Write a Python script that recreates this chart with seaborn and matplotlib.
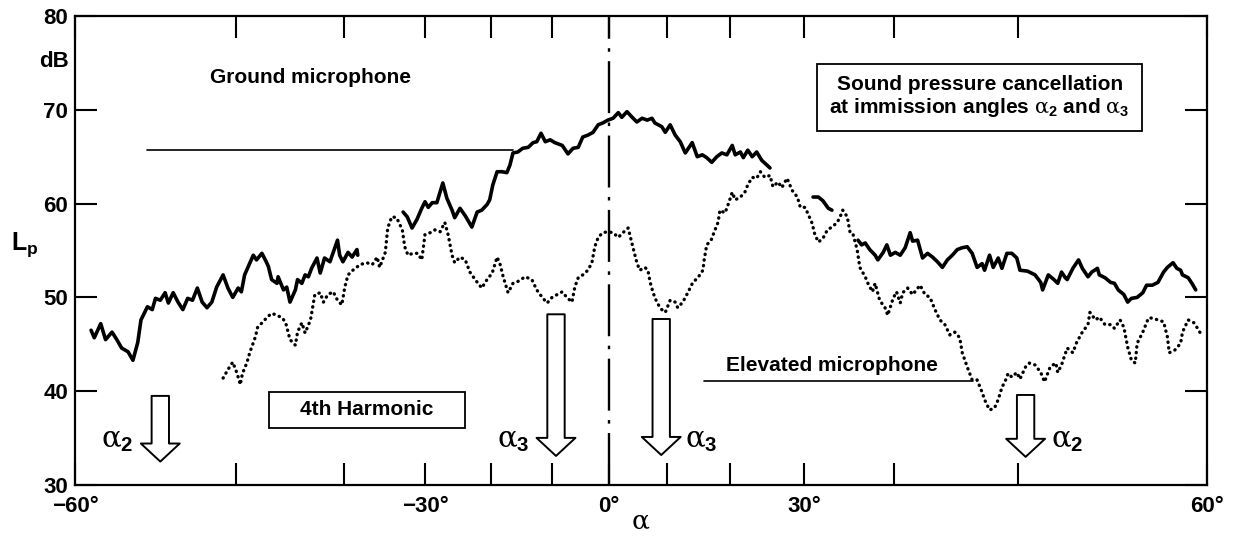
import numpy as np
import pandas as pd
import matplotlib
matplotlib.use('Agg')
import matplotlib.pyplot as plt
import seaborn as sns

# --- data (angle in degrees, level in dB) ---
# ground microphone, drawn in four pieces (the trace has gaps)
ground_seg1_angle = [-59.0, -58.8, -58.4, -58.1, -57.7, -57.4, -57.1, -56.7, -56.4, -56.1,
                     -55.9, -55.5, -55.2, -55.0, -54.7, -54.4, -54.2, -53.9, -53.6, -53.3,
                     -53.0, -52.7, -52.4, -52.1, -51.8, -51.5, -51.2, -50.8, -50.5, -50.2,
                     -49.8, -49.5, -49.2, -48.4, -48.1, -47.6, -47.2, -47.0, -46.7, -46.2,
                     -46.1, -45.6, -45.3, -45.0, -44.5, -44.3, -43.9, -43.6, -43.3, -43.0,
                     -42.5, -42.2, -41.8, -41.3, -40.6, -40.4, -40.1, -39.5, -39.0, -38.4,
                     -38.3]
ground_seg1_db = [46.5, 45.7, 47.2, 45.5, 46.3, 45.5, 44.6, 44.2, 43.3, 45.2,
                  47.6, 49.0, 48.7, 49.9, 49.7, 50.5, 49.4, 50.5, 49.5, 48.7,
                  49.9, 49.7, 51.0, 49.5, 48.9, 49.5, 51.1, 52.4, 51.0, 50.0,
                  51.0, 50.6, 52.4, 54.5, 54.0, 54.7, 53.8, 53.3, 51.9, 51.5,
                  52.2, 50.8, 51.1, 49.5, 50.8, 51.9, 51.5, 52.4, 52.2, 53.1,
                  54.2, 52.6, 54.2, 53.8, 56.1, 54.5, 53.8, 54.8, 54.3, 55.1,
                  54.5]

ground_seg2_angle = [-32.7, -32.2, -31.6, -31.0, -30.4, -30.0, -29.5, -28.9, -28.2, -27.3,
                     -26.7, -25.9, -25.5, -24.7, -23.9, -22.9, -22.1, -21.4, -20.6, -20.2,
                     -19.7, -19.0, -18.2, -17.4, -16.9, -16.4, -15.6, -14.8, -13.9, -13.1,
                     -12.5, -11.8, -11.1, -10.3, -9.5, -8.2, -7.2, -6.3, -5.4, -4.6,
                     -3.7, -2.8, -1.9, -1.1, -0.2, 0.7, 1.6, 2.2, 3.1, 4.0,
                     4.8, 5.7, 6.6, 7.4, 7.9, 9.1, 9.7, 10.5, 11.3, 12.1,
                     12.9, 14.0, 14.8, 15.6, 16.3, 17.1, 17.9, 18.7, 19.5, 20.3,
                     20.7, 21.4, 21.8, 22.4, 23.0, 23.6, 24.3, 25.0, 25.4]
ground_seg2_db = [59.1, 58.6, 57.4, 58.3, 59.5, 60.2, 59.6, 60.1, 60.1, 62.2,
                  60.6, 59.3, 58.5, 59.5, 58.7, 57.5, 59.1, 59.3, 59.9, 60.4,
                  62.0, 63.4, 63.4, 63.3, 64.1, 65.4, 65.5, 65.9, 66.0, 66.5,
                  66.6, 67.5, 66.6, 66.8, 66.5, 66.2, 65.3, 65.9, 66.0, 67.1,
                  67.3, 67.6, 68.4, 68.6, 68.9, 69.1, 69.7, 69.2, 69.8, 69.2,
                  68.7, 69.1, 68.9, 69.1, 68.6, 68.2, 67.6, 68.4, 67.3, 66.6,
                  65.4, 66.5, 65.0, 65.2, 64.9, 64.4, 65.0, 65.4, 65.2, 66.2,
                  65.2, 65.5, 64.9, 65.7, 65.0, 65.5, 64.6, 64.1, 63.8]

ground_seg3_angle = [31.0, 31.6, 32.1, 32.7, 33.1]
ground_seg3_db = [60.7, 60.7, 60.3, 59.5, 59.3]

ground_seg4_angle = [36.0, 36.4, 36.8, 37.3, 37.9, 38.2, 38.8, 39.2, 39.6, 40.1,
                     40.5, 40.9, 41.3, 41.5, 41.9, 42.3, 42.7, 43.1, 43.5, 43.9,
                     44.3, 44.7, 45.1, 45.5, 45.9, 46.3, 46.7, 47.1, 47.3, 47.7,
                     48.0, 48.4, 48.7, 49.1, 49.5, 49.9, 50.1, 50.5, 50.9, 51.2,
                     51.3, 51.6, 51.9, 52.1, 52.3, 52.5, 52.6, 52.9, 53.2, 53.4,
                     53.7, 53.9, 54.2, 54.3, 54.6, 54.9, 55.1, 55.3, 55.6, 55.8,
                     56.0, 56.3, 56.6, 56.8, 57.1, 57.4, 57.7, 57.9, 58.2, 58.4,
                     58.6, 58.7, 59.0, 59.2, 59.4]
ground_seg4_db = [56.1, 55.6, 55.8, 55.1, 54.5, 54.0, 54.8, 55.6, 54.5, 54.8,
                  54.5, 55.3, 56.9, 56.0, 56.1, 54.2, 54.7, 54.3, 53.8, 53.2,
                  54.0, 54.5, 55.1, 55.3, 55.4, 54.7, 53.2, 53.6, 52.9, 54.5,
                  53.2, 54.2, 53.1, 54.7, 54.7, 54.2, 52.9, 52.8, 52.4, 51.6,
                  50.8, 52.4, 51.9, 51.5, 52.7, 52.1, 51.9, 53.1, 54.0, 53.1,
                  52.2, 52.7, 53.1, 52.4, 52.1, 51.6, 51.5, 50.8, 50.3, 49.5,
                  49.9, 50.0, 50.5, 51.3, 51.3, 51.6, 52.7, 53.2, 53.7, 53.1,
                  52.9, 52.4, 52.1, 51.5, 50.8]

# elevated microphone (dotted trace)
elevated_angle = [-50.8, -50.5, -50.2, -49.9, -49.6, -49.4, -49.0, -48.7, -48.2, -48.0,
                  -47.5, -47.1, -46.7, -46.2, -45.7, -45.4, -45.0, -44.5, -44.3, -43.9,
                  -43.6, -43.1, -42.7, -42.2, -41.9, -41.5, -41.0, -40.6, -40.2, -39.9,
                  -39.5, -38.9, -38.0, -37.2, -36.5, -35.9, -35.6, -34.9, -34.6, -34.1,
                  -33.5, -32.8, -32.5, -32.1, -31.5, -30.9, -30.4, -30.0, -29.2, -28.5,
                  -27.7, -27.0, -26.5, -25.9, -25.5, -24.7, -23.9, -23.2, -22.4, -21.4,
                  -20.6, -19.8, -19.0, -18.5, -18.0, -17.2, -16.4, -15.6, -14.4, -13.3,
                  -12.5, -11.6, -10.8, -10.0, -9.1, -8.2, -7.4, -6.5, -6.0, -5.4,
                  -4.6, -3.7, -3.0, -2.5, -1.9, -1.1, -0.2, 0.7, 1.6, 2.4,
                  3.3, 4.1, 4.8, 5.3, 6.2, 6.7, 7.1, 7.6, 8.3, 9.1,
                  9.7, 10.5, 11.3, 11.7, 12.5, 13.3, 14.1, 14.9, 15.7, 15.9,
                  16.3, 17.0, 17.5, 18.1, 18.4, 19.2, 19.7, 20.3, 20.7, 21.4,
                  22.0, 22.4, 23.0, 23.6, 24.1, 24.7, 25.4, 25.8, 26.5, 27.0,
                  27.7, 28.4, 29.1, 29.5, 30.1, 30.4, 30.9, 31.2, 31.6, 32.1,
                  32.6, 33.1, 33.7, 34.2, 34.3, 34.8, 35.1, 35.4, 35.9, 36.2,
                  36.8, 37.1, 37.6, 37.9, 38.4, 39.0, 39.3, 39.9, 40.2, 40.5,
                  40.7, 41.1, 41.5, 42.1, 42.5, 42.9, 43.3, 43.7, 44.1, 44.5,
                  44.9, 45.3, 45.5, 45.9, 46.3, 46.7, 47.1, 47.3, 47.7, 48.1,
                  48.4, 48.7, 49.0, 49.2, 49.5, 49.9, 50.1, 50.4, 50.6, 50.9,
                  51.2, 51.4, 51.7, 52.0, 52.1, 52.3, 52.6, 52.9, 53.1, 53.4,
                  53.7, 53.8, 54.1, 54.3, 54.6, 54.9, 55.1, 55.4, 55.6, 55.8,
                  56.0, 56.2, 56.3, 56.6, 56.9, 57.1, 57.4, 57.7, 57.9, 58.0,
                  58.3, 58.6, 58.7, 59.0, 59.3, 59.5, 59.7]
elevated_db = [41.4, 42.3, 43.1, 41.9, 40.7, 41.9, 43.0, 44.2, 45.8, 46.8,
               47.4, 47.9, 48.3, 48.1, 47.8, 47.3, 45.5, 44.9, 46.3, 47.3,
               46.2, 47.6, 50.3, 50.5, 49.5, 50.3, 50.6, 49.7, 49.2, 51.1,
               52.4, 52.9, 53.5, 53.7, 53.5, 54.3, 53.2, 54.8, 57.4, 58.6,
               58.5, 57.2, 55.4, 54.5, 54.7, 54.7, 54.0, 56.7, 56.9, 57.2,
               57.0, 58.0, 56.7, 54.5, 53.7, 54.3, 54.0, 52.7, 51.9, 51.0,
               51.9, 52.6, 54.3, 53.5, 52.2, 50.5, 51.5, 51.7, 52.2, 51.9,
               50.8, 50.0, 49.4, 50.0, 50.3, 50.6, 50.0, 49.5, 51.1, 52.1,
               52.4, 52.9, 53.7, 55.4, 56.4, 56.9, 57.0, 56.9, 56.4, 56.9,
               57.4, 55.4, 53.7, 52.9, 53.2, 52.9, 51.6, 50.5, 49.4, 48.7,
               48.4, 49.7, 49.5, 48.9, 49.5, 50.5, 51.6, 52.1, 52.9, 54.0,
               55.6, 56.1, 57.0, 58.0, 59.3, 59.0, 59.9, 61.2, 60.4, 60.7,
               61.2, 62.0, 62.8, 62.7, 63.4, 62.8, 63.0, 61.8, 62.3, 61.7,
               62.7, 61.4, 60.7, 59.6, 59.6, 59.0, 57.9, 56.7, 55.9, 56.3,
               57.2, 57.5, 58.0, 59.0, 59.3, 58.6, 57.0, 56.9, 55.1, 53.2,
               52.2, 51.5, 50.6, 51.5, 49.7, 48.9, 48.1, 49.9, 50.6, 49.4,
               50.5, 51.0, 50.3, 51.3, 50.3, 50.0, 48.7, 47.6, 47.1, 46.0,
               46.3, 45.7, 44.1, 42.6, 41.2, 41.2, 39.9, 39.1, 38.0, 38.2,
               39.1, 40.4, 41.2, 41.9, 41.5, 42.0, 41.3, 42.6, 43.0, 42.8,
               42.0, 41.0, 42.6, 43.0, 42.0, 42.8, 44.6, 44.1, 45.2, 46.3,
               47.1, 48.4, 47.6, 47.9, 47.1, 47.1, 46.7, 47.6, 46.8, 44.7,
               43.3, 43.0, 45.1, 46.3, 47.8, 47.8, 47.6, 47.4, 45.8, 44.1,
               44.4, 45.1, 46.3, 47.6, 47.3, 46.7, 46.0]

# cancellation arrows: angle, top and tip level, label
arrow_angles = [-54.7, -9.3, 9.0, 50.4]
arrow_top = [39.5, 48.2, 47.7, 39.6]
arrow_tip = [32.5, 33.1, 33.2, 33.0]
arrow_labels = [r'$\alpha_2$', r'$\alpha_3$', r'$\alpha_3$', r'$\alpha_2$']
arrow_label_angles = [-57.4, -16.4, 15.4, 52.6]

tick_angles = [-60, -50, -40, -30, -20, -10, 0, 10, 20, 30, 40, 50, 60]
tick_labels = ['\u221260°', '', '', '\u221230°', '', '', '0°', '', '', '30°', '', '', '60°']

# the angle axis of the original is not linear (track distance), relative spacing of the 10° ticks
track_offsets = [-534, -373, -265, -184, -118, -57, 0, 58, 121, 195, 285, 409, 598]


def to_track(a):
    return np.interp(a, tick_angles, track_offsets)


def from_track(d):
    return np.interp(d, track_offsets, tick_angles)


sns.set_theme(style='ticks')
plt.rcParams['font.family'] = ['Liberation Sans', 'DejaVu Sans']
plt.rcParams['font.weight'] = 'bold'
plt.rcParams['text.color'] = 'black'
plt.rcParams['axes.labelcolor'] = 'black'
plt.rcParams['xtick.color'] = 'black'
plt.rcParams['ytick.color'] = 'black'
# thin upright serif alpha, sans digits, like the original
plt.rcParams['mathtext.fontset'] = 'custom'
plt.rcParams['mathtext.rm'] = 'Liberation Sans:bold'
plt.rcParams['mathtext.it'] = 'DejaVu Serif:normal'
plt.rcParams['mathtext.bf'] = 'Liberation Sans:bold'

ground_df = pd.concat([
    pd.DataFrame({'angle': ground_seg1_angle, 'db': ground_seg1_db, 'segment': 1}),
    pd.DataFrame({'angle': ground_seg2_angle, 'db': ground_seg2_db, 'segment': 2}),
    pd.DataFrame({'angle': ground_seg3_angle, 'db': ground_seg3_db, 'segment': 3}),
    pd.DataFrame({'angle': ground_seg4_angle, 'db': ground_seg4_db, 'segment': 4}),
], ignore_index=True)
elevated_df = pd.DataFrame({'angle': elevated_angle, 'db': elevated_db})

fig = plt.figure(figsize=(12.37, 5.37), dpi=100)
ax = fig.add_axes([0.0606, 0.0968, 0.9152, 0.8734])
ax.set_xscale('function', functions=(to_track, from_track))

sns.lineplot(data=ground_df, x='angle', y='db', units='segment', estimator=None,
             sort=False, color='black', lw=2.6, ax=ax)
sns.lineplot(data=elevated_df, x='angle', y='db', estimator=None, sort=False,
             color='black', lw=2.4, linestyle=(0, (0.1, 1.6)), dash_capstyle='round', ax=ax)

ax.axvline(0, color='black', lw=1.7, linestyle=(0, (22, 4, 1.5, 4)))

ax.set_xlim(-60, 60)
ax.set_ylim(30, 80)
ax.set_xticks(tick_angles)
ax.set_xticklabels(tick_labels)
ax.set_yticks([30, 40, 50, 60, 70, 80])
ax.tick_params(axis='both', direction='in', length=16, width=1.5, top=True, right=True,
               labelsize=16, colors='black')
ax.tick_params(axis='x', pad=8)
ax.tick_params(axis='y', pad=5)
for s in ax.spines.values():
    s.set_linewidth(1.6)
    s.set_color('black')
ax.set_xlabel(r'$\alpha$', fontsize=19, labelpad=-5)
ax.set_ylabel('')

ax.text(-0.0186, 75.1, 'dB', transform=ax.get_yaxis_transform(), ha='center', va='center', fontsize=16)
ax.text(-0.044, 55.6, r'$\mathbf{L_p}$', transform=ax.get_yaxis_transform(), ha='center', va='center', fontsize=18)

# curve labels with leader lines
ax.text(-43.1, 73.4, 'Ground microphone', ha='center', va='center', fontsize=15)
ax.plot([-55.5, -16.4], [65.7, 65.7], color='black', lw=1.2)
ax.text(33.1, 42.7, 'Elevated microphone', ha='center', va='center', fontsize=15)
ax.plot([15.9, 46.4], [41.1, 41.1], color='black', lw=1.2)

ax.text(46.9, 71.4, 'Sound pressure cancellation\nat immission angles $\\alpha_2$ and $\\alpha_3$',
        ha='center', va='center', fontsize=15, linespacing=1.1,
        bbox=dict(boxstyle='square,pad=0.6', fc='white', ec='black', lw=1.3))
ax.text(-37.2, 38.0, '    4th Harmonic    ', ha='center', va='center', fontsize=15,
        bbox=dict(boxstyle='square,pad=0.4', fc='white', ec='black', lw=1.3))

for a, top, tip, lab, la in zip(arrow_angles, arrow_top, arrow_tip, arrow_labels, arrow_label_angles):
    ax.annotate('', xy=(a, tip), xytext=(a, top),
                arrowprops=dict(arrowstyle='simple,head_length=1.3,head_width=2.8,tail_width=1.25',
                                fc='white', ec='black', lw=1.4, shrinkA=0, shrinkB=0,
                                mutation_scale=10))
    ax.text(la, 34.8, lab, ha='center', va='center', fontsize=21)

fig.savefig('out.png', dpi=100)
plt.close(fig)
